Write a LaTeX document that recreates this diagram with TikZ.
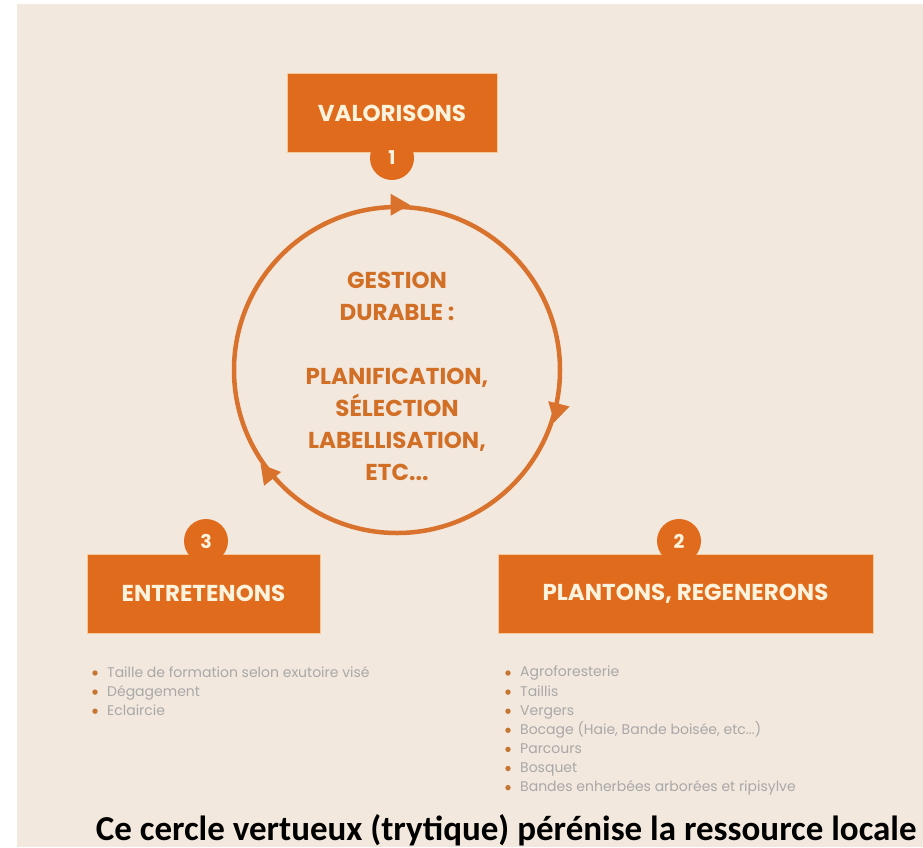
\documentclass[tikz,border=0pt]{standalone}
\usepackage{fontspec}
\setmainfont{Poppins}
\newfontfamily\captionfont{Carlito}
\usetikzlibrary{shapes.geometric}

\definecolor{paper}{HTML}{F3E8DD}
\definecolor{stageorange}{HTML}{E06B1C}
\definecolor{stageedge}{HTML}{F6C99A}
\definecolor{cream}{HTML}{FDF2DC}
\definecolor{ringorange}{HTML}{D8722C}
\definecolor{coreorange}{HTML}{D26F27}
\definecolor{listgray}{HTML}{A8A8A8}
\definecolor{dotbrown}{HTML}{C57632}

\begin{document}
\begin{tikzpicture}[
    x=1pt, y=-1pt,
    stage/.style={draw=stageedge, line width=1pt, fill=stageorange, rectangle, minimum height=79pt, inner sep=0pt, text=cream, font=\fontsize{23}{28}\selectfont\bfseries},
    badge/.style={circle, fill=stageorange, minimum size=44pt, inner sep=0pt, text=cream, font=\fontsize{19}{22}\selectfont\bfseries},
    tip/.style={isosceles triangle, isosceles triangle apex angle=60, fill=ringorange, minimum size=19pt, inner sep=0pt},
    items/.style={anchor=north west, align=left, inner sep=0pt, text=listgray, font=\fontsize{14}{19.1}\selectfont}
]
    \useasboundingbox (0,0) rectangle (923,847);
    \fill[paper] (17,4) rectangle (923,847);

    % Cycle in the middle
    \node[circle, draw=ringorange, line width=4.5pt, minimum size=326pt] (ring) at (397,370) {};
    \node[tip, rotate=0] (tiptop) at (ring.90) {};
    \node[tip, rotate=-104] (tipright) at (ring.-14) {};
    \node[tip, rotate=129] (tipleft) at (ring.219) {};
    \node[align=center, text=coreorange, font=\fontsize{23}{32}\selectfont\bfseries] (core) at (397,376) {
        GESTION\\
        DURABLE :\\[32pt]
        PLANIFICATION,\\
        SÉLECTION\\
        LABELLISATION,\\
        ETC...
    };

    % Stage 1: top
    \node[stage, minimum width=210pt] (valorisons) at (392,113) {VALORISONS};
    \node[badge] (one) at (392,158) {1};

    % Stage 2: bottom right
    \node[stage, minimum width=375pt] (plantons) at (685.5,593.5) {PLANTONS, REGENERONS};
    \node[badge] (two) at (679,541) {2};

    % Stage 3: bottom left
    \node[stage, minimum width=233pt] (entretenons) at (203.5,593.5) {ENTRETENONS};
    \node[badge] (three) at (206,541) {3};

    % Lists under the stages
    \node[items] (leftlist) at (107,666) {
        Taille de formation selon exutoire visé\\
        Dégagement\\
        Eclaircie
    };
    \node[items] (rightlist) at (520,666) {
        Agroforesterie\\
        Taillis\\
        Vergers\\
        Bocage (Haie, Bande boisée, etc...)\\
        Parcours\\
        Bosquet\\
        Bandes enherbées arborées et ripisylve
    };
    \foreach \k in {0,1,2}
        \fill[dotbrown] (95,{673+19.1*\k}) circle[radius=2.7pt];
    \foreach \k in {0,...,6}
        \fill[dotbrown] (508,{673+19.1*\k}) circle[radius=2.7pt];

    % Caption
    \node[anchor=base east, inner sep=0pt, font=\captionfont\fontsize{35}{40}\selectfont\bfseries] (caption) at (917,840) {Ce cercle vertueux (trytique) pérénise la ressource locale};

\end{tikzpicture}
\end{document}
